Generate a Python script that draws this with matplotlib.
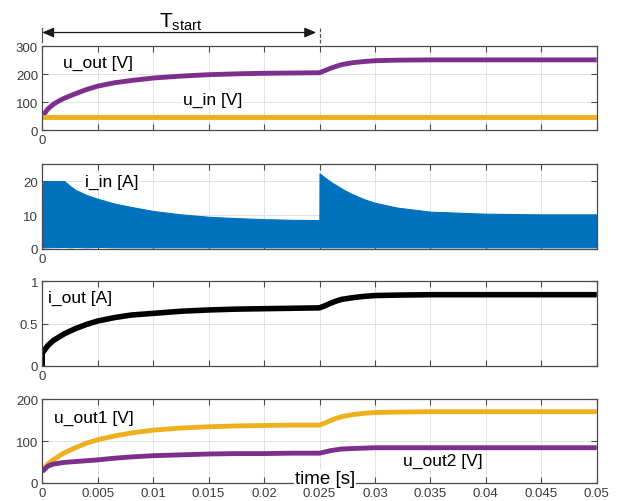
import matplotlib
matplotlib.use("Agg")
import matplotlib.pyplot as plt

plt.rcParams.update({
    'font.family': ['Liberation Sans', 'DejaVu Sans'],
    'mathtext.default': 'regular',
})

# цвета MATLAB
PURPLE = "#7E2F8E"
YELLOW = "#EDB120"
BLUE = "#0072BD"
BLACK = "#000000"
SPINE = "#4a4a4a"
TICK_TEXT = "#3c3c3c"
GRID = "#e2e2e2"

# время для напряжений
t_v = [0, 0.0005, 0.001, 0.0015, 0.002, 0.003, 0.004, 0.005, 0.0065, 0.008,
       0.01, 0.0125, 0.015, 0.0175, 0.02, 0.0225, 0.025, 0.0255, 0.026, 0.0265,
       0.027, 0.028, 0.029, 0.03, 0.032, 0.035, 0.04, 0.045, 0.05]
u_out = [48, 75, 92, 104, 114, 130, 145, 157, 169, 177,
         186, 193, 198, 201, 203, 204, 205, 213, 221, 228,
         234, 241, 245, 248, 250, 251, 251, 251, 251]
u_in = [47, 47, 47, 47, 47, 47, 47, 47, 47, 47,
        47, 47, 47, 47, 47, 47, 47, 47, 47, 47,
        47, 47, 47, 47, 47, 47, 47, 47, 47]
u_out1 = [30, 45, 55, 64, 72, 84, 95, 103, 112, 119,
          126, 131, 134, 136, 137, 138, 138, 143, 149, 154,
          158, 163, 166, 168, 169, 170, 170, 170, 170]
u_out2 = [27, 40, 45, 47, 49, 51, 53, 55, 59, 62,
          65, 67, 69, 70, 70, 71, 71, 74, 77, 79,
          81, 82, 83, 84, 84, 84, 84, 84, 84]

# ток выхода
t_iout = [0, 0, 0.0005, 0.001, 0.0015, 0.002, 0.003, 0.004, 0.005, 0.0065,
          0.008, 0.01, 0.0125, 0.015, 0.0175, 0.02, 0.0225, 0.025, 0.0255, 0.026,
          0.0265, 0.027, 0.028, 0.029, 0.03, 0.032, 0.035, 0.04, 0.045, 0.05]
i_out = [0, 0.15, 0.24, 0.30, 0.34, 0.38, 0.44, 0.49, 0.53, 0.57,
         0.60, 0.62, 0.645, 0.66, 0.67, 0.675, 0.68, 0.685, 0.71, 0.74,
         0.765, 0.785, 0.805, 0.82, 0.83, 0.835, 0.84, 0.84, 0.84, 0.84]

# огибающая входного тока (ШИМ)
t_iin = [0, 0.0001, 0.002, 0.0025, 0.003, 0.004, 0.005, 0.0065, 0.008, 0.01,
         0.0125, 0.015, 0.0175, 0.02, 0.0225, 0.02499, 0.025, 0.0255, 0.026, 0.027,
         0.0275, 0.028, 0.029, 0.03, 0.032, 0.035, 0.04, 0.045, 0.05]
i_in_hi = [15, 20, 20, 18.6, 17.4, 15.9, 14.8, 13.4, 12.4, 11.2,
           10.2, 9.5, 9.1, 8.8, 8.6, 8.5, 22.3, 21.0, 19.8, 17.8,
           16.9, 16.1, 14.7, 13.6, 12.2, 11.0, 10.4, 10.2, 10.2]
i_in_lo = [0.5, 0.5, 0.6, 0.5, 0.6, 0.5, 0.6, 0.5, 0.5, 0.5,
           0.5, 0.5, 0.5, 0.5, 0.5, 0.5, 0.5, 0.5, 0.5, 0.5,
           0.5, 0.5, 0.5, 0.5, 0.5, 0.5, 0.5, 0.5, 0.5]

x_ticks = [0, 0.005, 0.01, 0.015, 0.02, 0.025, 0.03, 0.035, 0.04, 0.045, 0.05]
x_ticklabels = ['0', '0.005', '0.01', '0.015', '0.02', '0.025', '0.03',
                '0.035', '0.04', '0.045', '0.05']
t_start = 0.025

fig = plt.figure(figsize=(6.21, 5.02), dpi=100)
fig.patch.set_facecolor('white')

L, W = 0.068, 0.893
ax1 = fig.add_axes([L, 0.739, W, 0.167])
ax2 = fig.add_axes([L, 0.502, W, 0.169])
ax3 = fig.add_axes([L, 0.269, W, 0.169])
ax4 = fig.add_axes([L, 0.036, W, 0.167])


def style(ax, ylim, yticks, yticklabels, full_x=False):
    ax.set_xlim(0, 0.05)
    ax.set_ylim(*ylim)
    ax.set_xticks(x_ticks)
    if full_x:
        ax.set_xticklabels(x_ticklabels)
    else:
        ax.set_xticklabels(['0'] + [''] * (len(x_ticks) - 1))
    ax.set_yticks(yticks)
    ax.set_yticklabels(yticklabels)
    ax.tick_params(direction='in', length=4, width=0.8, color=SPINE,
                   labelsize=9.5, labelcolor=TICK_TEXT, top=True, right=True,
                   pad=3)
    ax.grid(True, color=GRID, linewidth=0.7)
    ax.set_axisbelow(True)
    for sp in ax.spines.values():
        sp.set_color(SPINE)
        sp.set_linewidth(0.9)
        sp.set_zorder(5)


label_kw = dict(fontsize=12.5, va='center', ha='left',
                bbox=dict(facecolor='white', edgecolor='none', pad=0.5))

# панель 1: напряжения
ax1.plot(t_v, u_out, color=PURPLE, lw=3.5, solid_capstyle='butt')
ax1.plot(t_v, u_in, color=YELLOW, lw=3.5, solid_capstyle='butt')
style(ax1, (0, 300), [0, 100, 200, 300], ['0', '100', '200', '300'])
ax1.text(0.038, 0.806, "u_out [V]", transform=ax1.transAxes, **label_kw)
ax1.text(0.253, 0.369, "u_in [V]", transform=ax1.transAxes, **label_kw)

# T_start
xt = ax1.get_xaxis_transform()
ax1.annotate('', xy=(t_start - 0.0003, 1.163), xytext=(0, 1.163),
             xycoords=xt, textcoords=xt,
             arrowprops=dict(arrowstyle='<|-|>,head_width=0.3,head_length=0.7',
                             color='#1a1a1a', lw=0.9, shrinkA=0, shrinkB=0),
             annotation_clip=False)
ax1.plot([0, 0], [1.05, 1.22], transform=xt, color='#555555', lw=0.9,
         clip_on=False)
ax1.plot([t_start, t_start], [1.036, 1.238], transform=xt,
         color='#555555', lw=0.9, ls=(0, (3, 1.5)), clip_on=False)
ax1.text(0.0125, 1.30, r'$T_{start}$', transform=xt,
         fontsize=15, ha='center', va='center')

# панель 2: входной ток
ax2.fill_between(t_iin, i_in_lo, i_in_hi, color=BLUE, lw=0.8, edgecolor=BLUE)
style(ax2, (0, 25), [0, 10, 20], ['0', '10', '20'])
ax2.text(0.077, 0.80, "i_in [A]", transform=ax2.transAxes, **label_kw)

# панель 3: выходной ток
ax3.plot(t_iout, i_out, color=BLACK, lw=4, solid_capstyle='butt')
style(ax3, (0, 1), [0, 0.5, 1], ['0', '0.5', '1'])
ax3.text(0.011, 0.81, "i_out [A]", transform=ax3.transAxes, **label_kw)

# панель 4: выходные напряжения
ax4.plot(t_v, u_out1, color=YELLOW, lw=3.5, solid_capstyle='butt')
ax4.plot(t_v, u_out2, color=PURPLE, lw=3.5, solid_capstyle='butt')
style(ax4, (0, 200), [0, 100, 200], ['0', '100', '200'], full_x=True)
ax4.text(0.021, 0.786, "u_out1 [V]", transform=ax4.transAxes, **label_kw)
ax4.text(0.65, 0.265, "u_out2 [V]", transform=ax4.transAxes, **label_kw)
ax4.text(0.455, 0.05, "time [s]", transform=ax4.transAxes, zorder=6,
         **dict(label_kw, fontsize=13.5))

fig.savefig("out.png", dpi=100)
